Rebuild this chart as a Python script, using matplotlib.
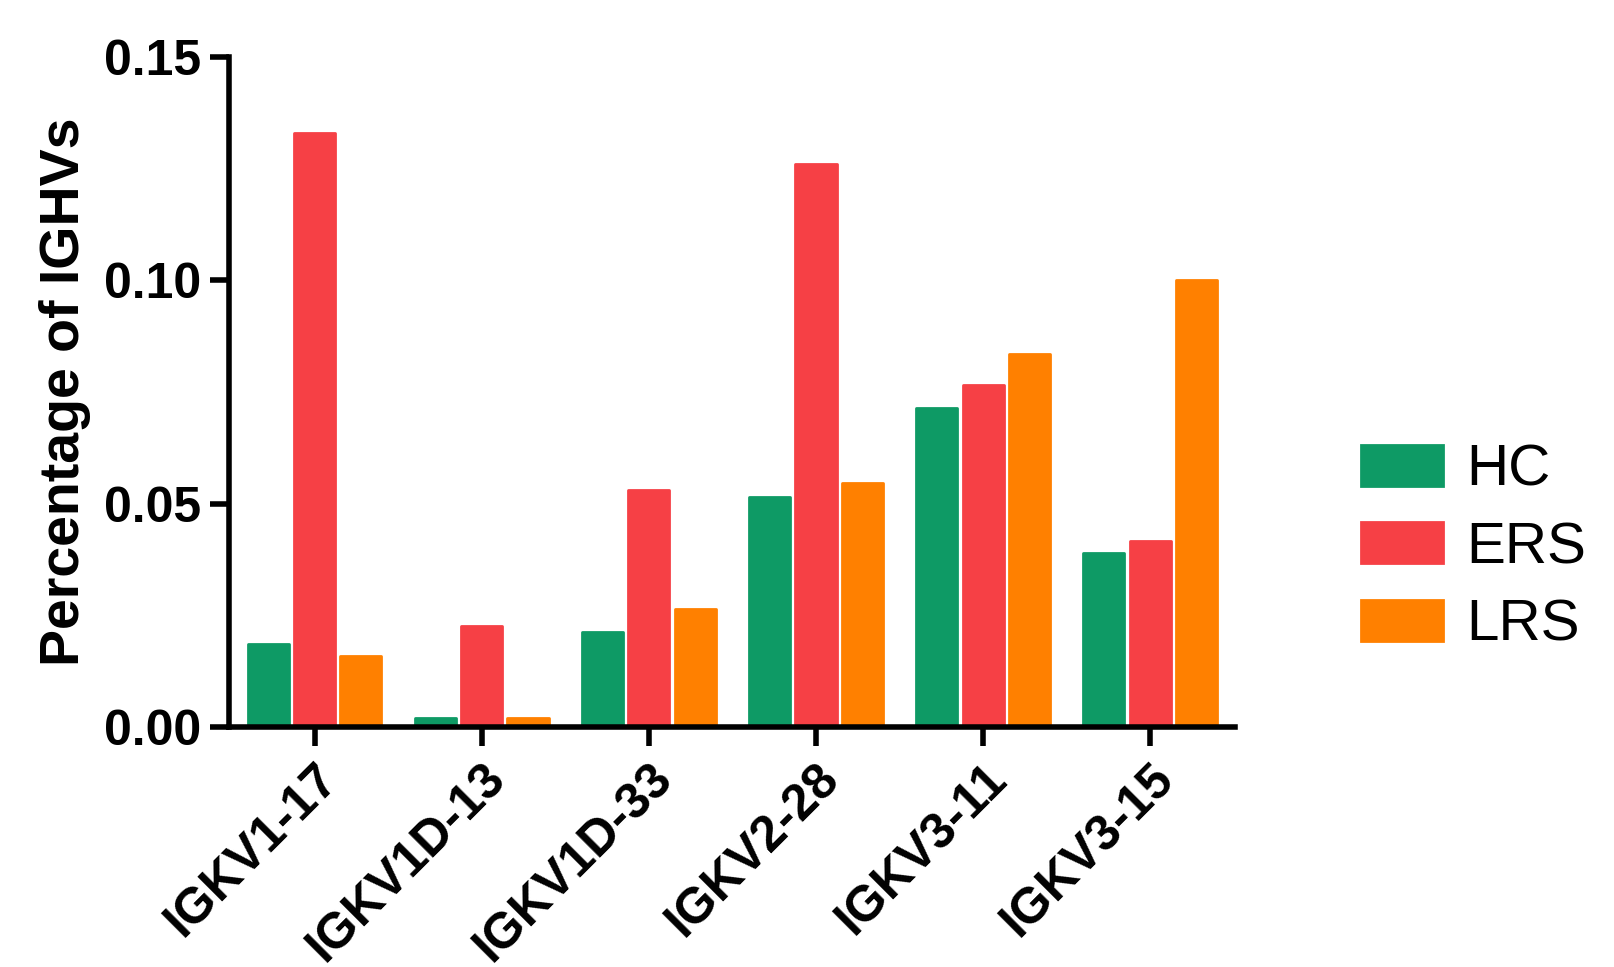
import numpy as np
import matplotlib.pyplot as plt

genes = ['IGKV1-17', 'IGKV1D-13', 'IGKV1D-33', 'IGKV2-28', 'IGKV3-11', 'IGKV3-15']
hc = [0.0187, 0.0021, 0.0212, 0.0516, 0.0714, 0.0389]
ers = [0.1330, 0.0226, 0.0530, 0.1260, 0.0765, 0.0417]
lrs = [0.0159, 0.0021, 0.0265, 0.0546, 0.0836, 0.1000]

groups = ['HC', 'ERS', 'LRS']
colors = ['#0E9A65', '#F64045', '#FF8000']

plt.rcParams['font.family'] = ['Liberation Sans', 'DejaVu Sans']

fig = plt.figure(figsize=(16.15, 9.67), dpi=100)
ax = fig.add_axes([0.142, 0.248, 0.623, 0.693])

x = np.arange(len(genes))
w = 0.246
for i, (vals, lab, c) in enumerate(zip([hc, ers, lrs], groups, colors)):
    ax.bar(x + (i - 1) * 0.277, vals, width=w, color=c, label=lab,
           edgecolor=c, linewidth=2, joinstyle='round')

ax.set_xlim(-0.51, 5.51)
ax.set_ylim(0, 0.15)
ax.set_yticks([0, 0.05, 0.10, 0.15])
ax.set_yticklabels(['0.00', '0.05', '0.10', '0.15'], fontsize=36, fontweight='bold')
ax.set_xticks(x)
ax.set_xticklabels(genes, rotation=45, ha='right', rotation_mode='anchor',
                   fontsize=36, fontweight='bold')
ax.set_ylabel('Percentage of IGHVs', fontsize=40, fontweight='bold', labelpad=10)

for s in ['top', 'right']:
    ax.spines[s].set_visible(False)
for s in ['left', 'bottom']:
    ax.spines[s].set_linewidth(4)
ax.tick_params(axis='both', width=4, length=14, pad=6)

ax.legend(loc='center left', bbox_to_anchor=(0.81, 0.433), bbox_transform=fig.transFigure,
          frameon=False, fontsize=42, handlelength=1.41, handleheight=0.7,
          labelspacing=0.4, handletextpad=0.4)

fig.savefig('out.png', dpi=100)
